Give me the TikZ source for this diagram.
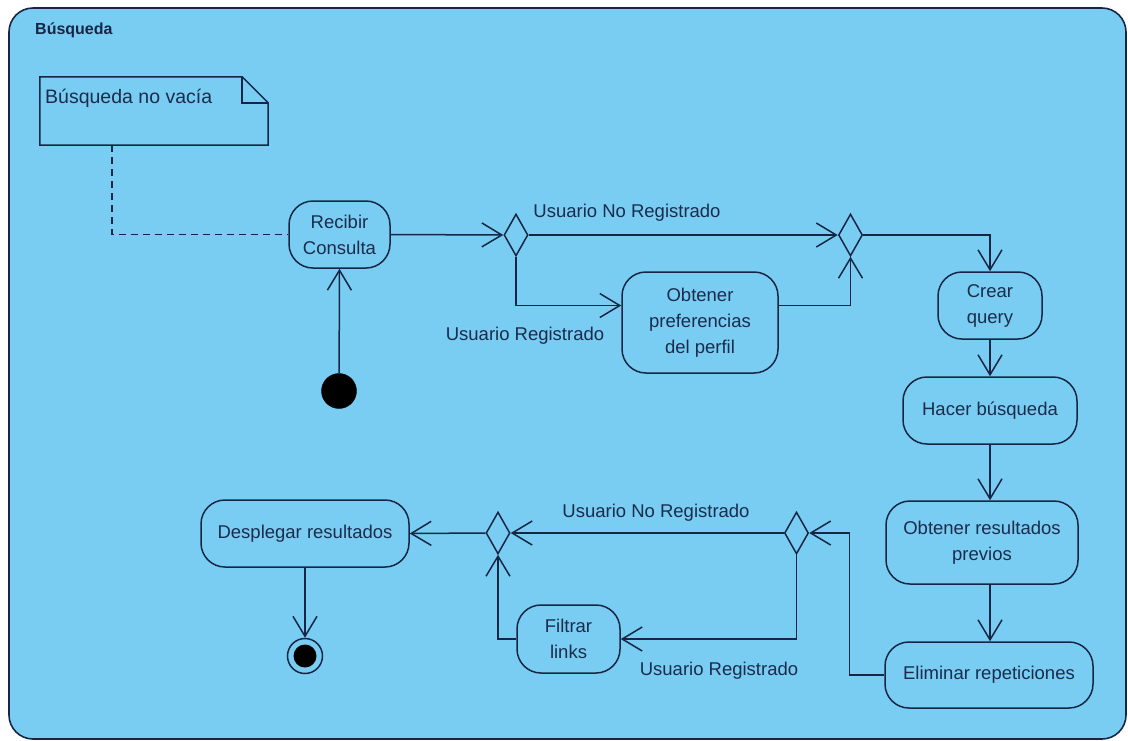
\documentclass[tikz,border=0pt]{standalone}
\usepackage{fontspec}
\setmainfont{Liberation Sans}
\usetikzlibrary{arrows.meta,shapes.geometric,calc}
\definecolor{panel}{RGB}{122,205,242}
\definecolor{ink}{RGB}{22,38,68}
\definecolor{txt}{RGB}{26,44,76}
\tikzset{
  action/.style={draw=ink,line width=1.5pt,rectangle,rounded corners=24pt,
    inner sep=0pt,align=center,text=txt,font=\fontsize{18.5}{26}\selectfont},
  decision/.style={draw=ink,line width=1.5pt,diamond,inner sep=0pt,
    minimum width=24pt,minimum height=42pt},
  flow/.style={draw=ink,line width=1.5pt,
    -{Straight Barb[length=20pt,width=24pt,line width=1.5pt]}},
  guard/.style={text=txt,font=\fontsize{18.5}{22}\selectfont,inner sep=0pt},
  anchorline/.style={draw=ink,line width=1.4pt,dashed,dash pattern=on 7pt off 5pt}
}
\begin{document}
\begin{tikzpicture}[x=1pt,y=-1pt]
\useasboundingbox (0,0) rectangle (1128,740);
% activity frame
\draw[draw=ink,line width=1.6pt,fill=panel,rounded corners=24pt] (9,8) rectangle (1126,739);
\node[anchor=west,text=ink,font=\bfseries\fontsize{16}{20}\selectfont,inner sep=0pt] (title) at (35,30) {Búsqueda};

% note
\node[minimum width=228pt,minimum height=68pt,inner sep=0pt] (note) at (154,111) {};
\draw[draw=ink,line width=1.5pt,fill=panel]
  (note.north west) -- ($(note.north east)+(-26,0)$) -- ($(note.north east)+(0,26)$)
  -- (note.south east) -- (note.south west) -- cycle;
\draw[draw=ink,line width=1.5pt]
  ($(note.north east)+(-26,0)$) -- ($(note.north east)+(-26,26)$) -- ($(note.north east)+(0,26)$);
\node[anchor=west,text=txt,font=\fontsize{19.5}{24}\selectfont,inner sep=0pt] (notetext) at (45,98) {Búsqueda no vacía};

% actions
\node[action,minimum width=101pt,minimum height=67pt] (rc) at (339.5,234.5) {Recibir\\Consulta};
\node[action,minimum width=156pt,minimum height=101pt] (op) at (700,322.5) {Obtener\\preferencias\\del perfil};
\node[action,minimum width=104pt,minimum height=67pt] (cq) at (990,305.5) {Crear\\query};
\node[action,minimum width=174pt,minimum height=67pt] (hb) at (990,410.5) {Hacer búsqueda};
\node[action,minimum width=192pt,minimum height=83pt] (or) at (982,542.5) {Obtener resultados\\previos};
\node[action,minimum width=208pt,minimum height=66pt] (er) at (989,675) {Eliminar repeticiones};
\node[action,minimum width=208pt,minimum height=67pt] (dr) at (305,533.5) {Desplegar resultados};
\node[action,minimum width=103pt,minimum height=68pt] (fl) at (568.5,639) {Filtrar\\links};

% decisions
\node[decision] (d1) at (516,235) {};
\node[decision] (d2) at (850.5,235) {};
\node[decision] (d3) at (796.5,533) {};
\node[decision] (d4) at (498,533) {};

% initial and final nodes
\node[circle,fill=black,draw=black,minimum size=35pt,inner sep=0pt] (init) at (339,391) {};
\node[circle,draw=ink,line width=1.5pt,fill=panel,minimum size=35pt,inner sep=0pt] (fin) at (305,656) {};
\node[circle,fill=black,minimum size=23pt,inner sep=0pt] (fincore) at (fin) {};

% guards
\node[guard] (g1) at (627,213) {Usuario No Registrado};
\node[guard] (g2) at (525,336) {Usuario Registrado};
\node[guard] (g3) at (656,513) {Usuario No Registrado};
\node[guard] (g4) at (719,671) {Usuario Registrado};

% note attachment
\draw[anchorline] ([xshift=-42pt]note.south) |- (rc.west);

% control flows
\draw[flow] (init) -- (rc.south);
\draw[flow] (rc.east) -- (d1.west);
\draw[flow] (d1.east) -- (d2.west);
\draw[flow] (d1.south) |- ([yshift=17pt]op.west);
\draw[flow] ([yshift=17pt]op.east) -| (d2.south);
\draw[flow] (d2.east) -| (cq.north);
\draw[flow] (cq.south) -- (hb.north);
\draw[flow] (hb.south) -- ([xshift=8pt]or.north);
\draw[flow] ([xshift=8pt]or.south) -- ([xshift=1pt]er.north);
\draw[flow] (er.west) -- ++(-35,0) |- (d3.east);
\draw[flow] (d3.west) -- (d4.east);
\draw[flow] (d3.south) |- (fl.east);
\draw[flow] (fl.west) -| (d4.south);
\draw[flow] (d4.west) -- (dr.east);
\draw[flow] (dr.south) -- (fin.north);
\end{tikzpicture}
\end{document}
